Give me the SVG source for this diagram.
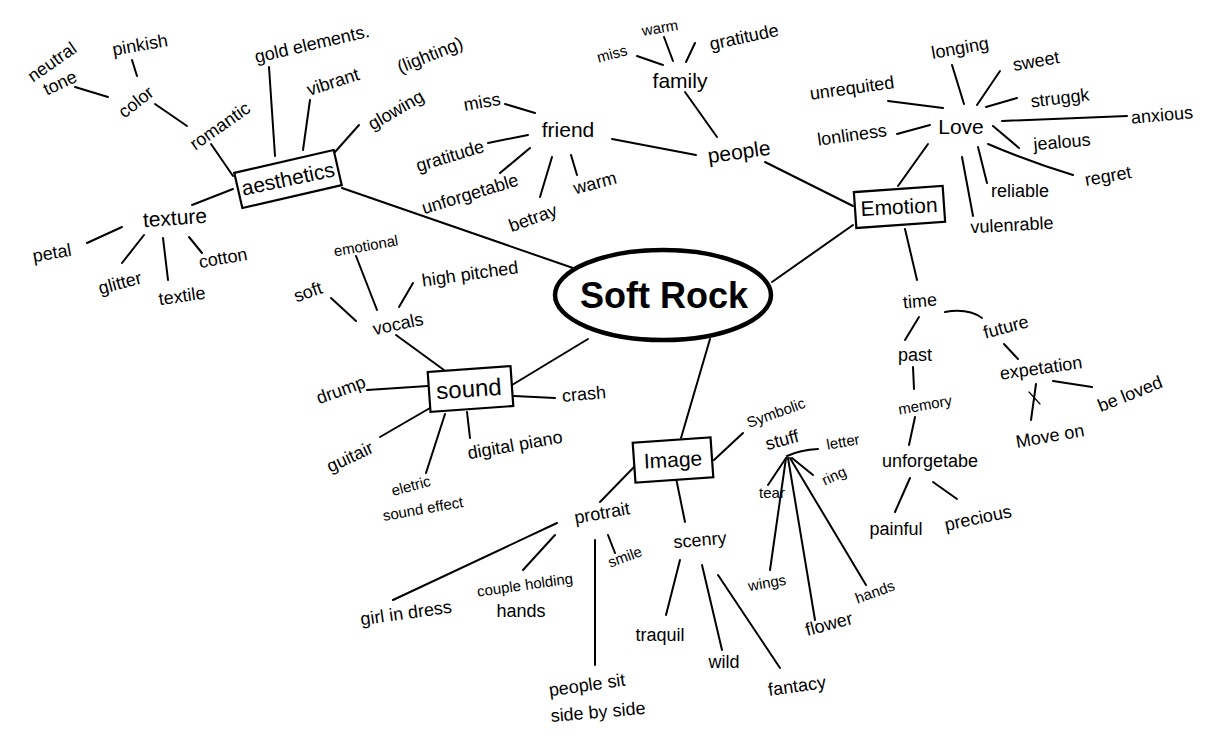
<svg xmlns="http://www.w3.org/2000/svg" width="1208" height="745" viewBox="0 0 1208 745">
<style>
.t{font-family:"Liberation Sans",Arial,sans-serif;font-size:18px;fill:#000;text-anchor:middle}
.s{font-size:15px}
.m{font-size:21px}
.box{fill:#fff;stroke:#000;stroke-width:2.2}
#connectors path,#connectors line{stroke:#000;stroke-width:2;fill:none;stroke-linecap:round}
</style>
<rect width="1208" height="745" fill="#fff"/>
<g id="connectors">
<!-- root -->
<path d="M342,188 Q470,232 573,268"/>
<line x1="772" y1="282" x2="853" y2="225"/>
<line x1="588" y1="339" x2="512" y2="385"/>
<line x1="710" y1="339" x2="681" y2="438"/>
<!-- aesthetics -->
<line x1="211" y1="144" x2="233" y2="176"/>
<line x1="155" y1="104" x2="187" y2="126"/>
<line x1="132" y1="60" x2="137" y2="76"/>
<line x1="75" y1="87" x2="108" y2="97"/>
<line x1="269" y1="67" x2="275" y2="156"/>
<line x1="310" y1="100" x2="303" y2="150"/>
<line x1="359" y1="125" x2="335" y2="152"/>
<line x1="192" y1="205" x2="233" y2="189"/>
<line x1="87" y1="243" x2="122" y2="227"/>
<line x1="122" y1="263" x2="144" y2="235"/>
<line x1="163" y1="238" x2="168" y2="280"/>
<line x1="189" y1="237" x2="202" y2="253"/>
<!-- friend / family / people -->
<line x1="505" y1="104" x2="535" y2="113"/>
<line x1="488" y1="143" x2="528" y2="135"/>
<line x1="500" y1="173" x2="530" y2="148"/>
<line x1="552" y1="157" x2="540" y2="197"/>
<line x1="571" y1="155" x2="577" y2="175"/>
<line x1="612" y1="139" x2="696" y2="155"/>
<line x1="637" y1="56" x2="663" y2="65"/>
<line x1="664" y1="37" x2="673" y2="61"/>
<line x1="695" y1="43" x2="686" y2="62"/>
<line x1="685" y1="92" x2="717" y2="137"/>
<line x1="765" y1="162" x2="853" y2="206"/>
<!-- love -->
<line x1="952" y1="65" x2="964" y2="104"/>
<line x1="1000" y1="71" x2="977" y2="105"/>
<line x1="1017" y1="98" x2="986" y2="107"/>
<line x1="1002" y1="121" x2="1127" y2="116"/>
<line x1="993" y1="126" x2="1019" y2="148"/>
<path d="M988,144 Q1030,162 1073,175"/>
<line x1="978" y1="147" x2="987" y2="183"/>
<line x1="962" y1="157" x2="973" y2="216"/>
<line x1="888" y1="101" x2="943" y2="108"/>
<line x1="897" y1="134" x2="930" y2="125"/>
<line x1="928" y1="144" x2="898" y2="186"/>
<!-- time -->
<line x1="905" y1="229" x2="917" y2="280"/>
<path d="M945,312 Q968,308 982,318"/>
<line x1="919" y1="317" x2="905" y2="340"/>
<line x1="913" y1="367" x2="914" y2="389"/>
<line x1="915" y1="417" x2="909" y2="445"/>
<line x1="910" y1="478" x2="895" y2="512"/>
<line x1="933" y1="482" x2="957" y2="499"/>
<line x1="1004" y1="344" x2="1018" y2="359"/>
<line x1="1036" y1="384" x2="1031" y2="420"/>
<line x1="1029" y1="392" x2="1040" y2="404" style="stroke-width:1.2"/>
<line x1="1053" y1="381" x2="1092" y2="387"/>
<!-- sound -->
<line x1="356" y1="256" x2="377" y2="310"/>
<line x1="331" y1="298" x2="356" y2="321"/>
<line x1="413" y1="283" x2="399" y2="307"/>
<line x1="396" y1="335" x2="444" y2="370"/>
<line x1="367" y1="390" x2="428" y2="386"/>
<line x1="514" y1="396" x2="555" y2="398"/>
<line x1="380" y1="437" x2="430" y2="408"/>
<line x1="426" y1="473" x2="445" y2="414"/>
<line x1="470" y1="438" x2="467" y2="412"/>
<!-- image -->
<line x1="635" y1="466" x2="600" y2="502"/>
<line x1="557" y1="523" x2="393" y2="600"/>
<line x1="555" y1="535" x2="523" y2="570"/>
<line x1="595" y1="540" x2="595" y2="665"/>
<line x1="608" y1="535" x2="615" y2="553"/>
<line x1="676" y1="478" x2="685" y2="522"/>
<line x1="680" y1="560" x2="666" y2="615"/>
<line x1="702" y1="565" x2="722" y2="650"/>
<line x1="718" y1="575" x2="780" y2="668"/>
<line x1="714" y1="460" x2="743" y2="433"/>
<path d="M787,456 Q800,450 818,449"/>
<line x1="792" y1="458" x2="813" y2="475"/>
<line x1="786" y1="458" x2="768" y2="485"/>
<line x1="786" y1="458" x2="770" y2="570"/>
<line x1="788" y1="458" x2="815" y2="620"/>
<line x1="790" y1="458" x2="866" y2="585"/>
</g>

<g id="root">
<ellipse cx="663" cy="295" rx="108" ry="45" fill="#fff" stroke="#000" stroke-width="4.5"/>
<text class="t" x="664" y="308" style="font-size:36px;font-weight:bold">Soft Rock</text>
</g>

<g id="aesthetics">
<rect class="box" x="237" y="161" width="102" height="36" transform="rotate(-13 288 179)"/>
<text class="t m" x="288" y="186" transform="rotate(-12 288 179)">aesthetics</text>
</g>
<g id="romantic"><text class="t" x="220" y="132" transform="rotate(-35 220 126)">romantic</text></g>
<g id="color"><text class="t" x="136" y="108" transform="rotate(-38 136 102)">color</text></g>
<g id="pinkish"><text class="t" x="140" y="51" transform="rotate(-10 140 45)">pinkish</text></g>
<g id="neutral-tone">
<text class="t" x="52" y="68" transform="rotate(-35 52 62)">neutral</text>
<text class="t" x="60" y="89" transform="rotate(-25 60 83)">tone</text>
</g>
<g id="gold-elements"><text class="t" x="312" y="50" transform="rotate(-13 312 44)">gold elements.</text></g>
<g id="vibrant"><text class="t" x="333" y="88" transform="rotate(-18 333 82)">vibrant</text></g>
<g id="lighting"><text class="t" x="430" y="61" transform="rotate(-22 430 55)">(lighting)</text></g>
<g id="glowing"><text class="t" x="396" y="116" transform="rotate(-30 396 110)">glowing</text></g>
<g id="texture"><text class="t m" x="175" y="225" transform="rotate(-4 175 219)">texture</text></g>
<g id="petal"><text class="t" x="52" y="259" transform="rotate(-10 52 253)">petal</text></g>
<g id="glitter"><text class="t" x="120" y="289" transform="rotate(-15 120 283)">glitter</text></g>
<g id="textile"><text class="t" x="182" y="302" transform="rotate(-8 182 296)">textile</text></g>
<g id="cotton"><text class="t" x="223" y="264" transform="rotate(-10 223 258)">cotton</text></g>

<g id="friend"><text class="t m" x="568" y="137">friend</text></g>
<g id="friend-miss"><text class="t" x="482" y="108" transform="rotate(-10 482 102)">miss</text></g>
<g id="friend-gratitude"><text class="t" x="450" y="162" transform="rotate(-17 450 156)">gratitude</text></g>
<g id="unforgetable"><text class="t" x="470" y="200" transform="rotate(-17 470 194)">unforgetable</text></g>
<g id="betray"><text class="t" x="533" y="224" transform="rotate(-20 533 218)">betray</text></g>
<g id="friend-warm"><text class="t" x="595" y="189" transform="rotate(-15 595 183)">warm</text></g>
<g id="people"><text class="t m" x="739" y="159" transform="rotate(-8 739 152)">people</text></g>
<g id="family"><text class="t m" x="680" y="88">family</text></g>
<g id="family-miss"><text class="t s" x="612" y="59" transform="rotate(-15 612 54)">miss</text></g>
<g id="family-warm"><text class="t s" x="660" y="33" transform="rotate(-10 660 28)">warm</text></g>
<g id="family-gratitude"><text class="t" x="744" y="43" transform="rotate(-12 744 37)">gratitude</text></g>

<g id="emotion">
<rect class="box" x="855" y="189" width="89" height="36" transform="rotate(-4 899 207)"/>
<text class="t m" x="899" y="214" transform="rotate(-3 899 207)">Emotion</text>
</g>
<g id="love"><text class="t m" x="961" y="134">Love</text></g>
<g id="longing"><text class="t" x="960" y="54" transform="rotate(-10 960 48)">longing</text></g>
<g id="sweet"><text class="t" x="1036" y="67" transform="rotate(-10 1036 61)">sweet</text></g>
<g id="struggk"><text class="t" x="1060" y="104" transform="rotate(-7 1060 98)">struggk</text></g>
<g id="anxious"><text class="t" x="1162" y="121" transform="rotate(-5 1162 115)">anxious</text></g>
<g id="jealous"><text class="t" x="1062" y="148" transform="rotate(-5 1062 142)">jealous</text></g>
<g id="regret"><text class="t" x="1108" y="182" transform="rotate(-10 1108 176)">regret</text></g>
<g id="reliable"><text class="t" x="1020" y="197">reliable</text></g>
<g id="vulenrable"><text class="t" x="1012" y="231" transform="rotate(-3 1012 225)">vulenrable</text></g>
<g id="unrequited"><text class="t" x="852" y="94" transform="rotate(-8 852 88)">unrequited</text></g>
<g id="lonliness"><text class="t" x="852" y="141" transform="rotate(-8 852 135)">lonliness</text></g>

<g id="time"><text class="t" x="920" y="307" transform="rotate(-5 920 301)">time</text></g>
<g id="future"><text class="t" x="1006" y="333" transform="rotate(-15 1006 327)">future</text></g>
<g id="past"><text class="t" x="915" y="361">past</text></g>
<g id="memory"><text class="t s" x="925" y="410" transform="rotate(-10 925 405)">memory</text></g>
<g id="unforgetabe"><text class="t" x="930" y="467">unforgetabe</text></g>
<g id="painful"><text class="t" x="896" y="535">painful</text></g>
<g id="precious"><text class="t" x="978" y="524" transform="rotate(-12 978 518)">precious</text></g>
<g id="expetation"><text class="t" x="1041" y="374" transform="rotate(-8 1041 368)">expetation</text></g>
<g id="move-on"><text class="t" x="1050" y="442" transform="rotate(-10 1050 436)">Move on</text></g>
<g id="be-loved"><text class="t" x="1130" y="400" transform="rotate(-22 1130 394)">be loved</text></g>

<g id="sound">
<rect class="box" x="429" y="369" width="83" height="40" transform="rotate(-4 470 389)"/>
<text class="t" x="469" y="397" style="font-size:24px" transform="rotate(-4 469 390)">sound</text>
</g>
<g id="vocals"><text class="t" x="398" y="330" transform="rotate(-12 398 324)">vocals</text></g>
<g id="soft"><text class="t" x="308" y="298" transform="rotate(-20 308 292)">soft</text></g>
<g id="emotional"><text class="t s" x="366" y="251" transform="rotate(-10 366 246)">emotional</text></g>
<g id="high-pitched"><text class="t" x="470" y="280" transform="rotate(-8 470 274)">high pitched</text></g>
<g id="drump"><text class="t" x="341" y="396" transform="rotate(-20 341 390)">drump</text></g>
<g id="crash"><text class="t" x="584" y="400" transform="rotate(-5 584 394)">crash</text></g>
<g id="guitair"><text class="t" x="350" y="463" transform="rotate(-25 350 457)">guitair</text></g>
<g id="sound-effect">
<text class="t s" x="411" y="491" transform="rotate(-15 411 486)">eletric</text>
<text class="t s" x="423" y="514" transform="rotate(-10 423 509)">sound effect</text>
</g>
<g id="digital-piano"><text class="t" x="515" y="451" transform="rotate(-10 515 445)">digital piano</text></g>

<g id="image">
<rect class="box" x="634" y="440" width="78" height="40" transform="rotate(-4 673 460)"/>
<text class="t m" x="673" y="467" transform="rotate(-3 673 460)">Image</text>
</g>
<g id="symbolic-stuff">
<text class="t s" x="776" y="418" transform="rotate(-20 776 413)">Symbolic</text>
<text class="t" x="782" y="446" transform="rotate(-15 782 440)">stuff</text>
</g>
<g id="letter"><text class="t s" x="843" y="447" transform="rotate(-10 843 442)">letter</text></g>
<g id="ring"><text class="t s" x="834" y="481" transform="rotate(-25 834 476)">ring</text></g>
<g id="tear"><text class="t s" x="772" y="498">tear</text></g>
<g id="wings"><text class="t s" x="767" y="588" transform="rotate(-10 767 583)">wings</text></g>
<g id="flower"><text class="t" x="829" y="630" transform="rotate(-15 829 624)">flower</text></g>
<g id="hands-image"><text class="t s" x="875" y="597" transform="rotate(-20 875 592)">hands</text></g>
<g id="protrait"><text class="t" x="602" y="519" transform="rotate(-10 602 513)">protrait</text></g>
<g id="girl-in-dress"><text class="t" x="406" y="619" transform="rotate(-8 406 613)">girl in dress</text></g>
<g id="couple-holding-hands">
<text class="t s" x="525" y="590" transform="rotate(-8 525 585)">couple holding</text>
<text class="t" x="521" y="617">hands</text>
</g>
<g id="people-sit">
<text class="t" x="587" y="691" transform="rotate(-8 587 685)">people sit</text>
<text class="t" x="598" y="718" transform="rotate(-5 598 712)">side by side</text>
</g>
<g id="smile"><text class="t s" x="625" y="562" transform="rotate(-20 625 557)">smile</text></g>
<g id="scenry"><text class="t" x="700" y="546" transform="rotate(-5 700 540)">scenry</text></g>
<g id="traquil"><text class="t" x="660" y="641">traquil</text></g>
<g id="wild"><text class="t" x="724" y="668">wild</text></g>
<g id="fantacy"><text class="t" x="797" y="692" transform="rotate(-8 797 686)">fantacy</text></g>
</svg>
